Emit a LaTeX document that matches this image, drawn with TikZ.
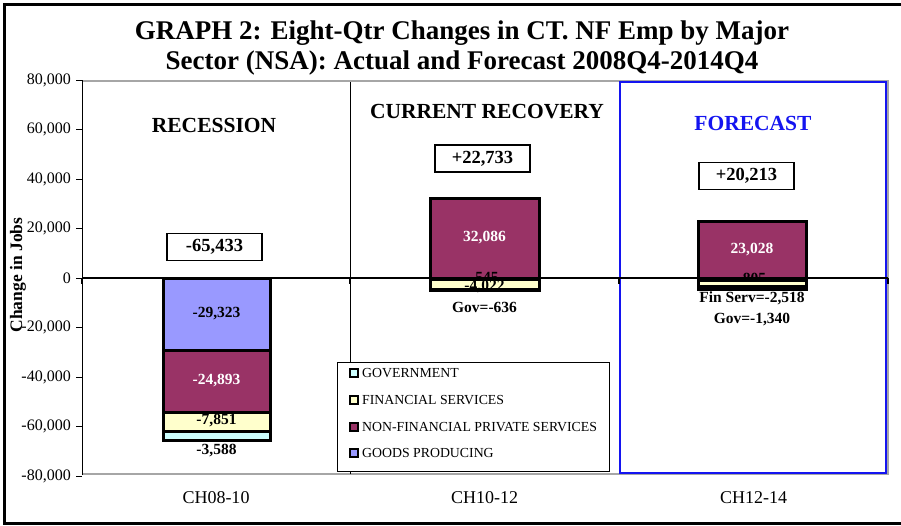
\documentclass[tikz,border=0pt]{standalone}
\usepackage{fontspec}
\setmainfont{Liberation Serif}
\usepackage{tikz}
\usetikzlibrary{positioning}
\definecolor{goodsc}{RGB}{153,153,255}
\definecolor{nfpsc}{RGB}{153,51,102}
\definecolor{finc}{RGB}{255,255,204}
\definecolor{govc}{RGB}{204,255,255}
\definecolor{fcblue}{RGB}{20,20,240}
\tikzset{
  seg/.style={draw=black, line width=3pt, line join=miter},
  vlab/.style={font=\bfseries\fontsize{15.5}{15.5}\selectfont, inner sep=0pt},
  boxlab/.style={draw=black, line width=1.2pt, fill=white, minimum width=95pt, minimum height=27pt, font=\bfseries\fontsize{18.5}{18.5}\selectfont},
  sectlab/.style={font=\bfseries\fontsize{21.5}{21.5}\selectfont},
  ticklab/.style={font=\fontsize{16}{16}\selectfont, anchor=east, inner sep=0pt},
  catlab/.style={font=\fontsize{18}{18}\selectfont},
  legsq/.style={draw=black, line width=2pt, minimum size=8pt, inner sep=0pt},
  legtxt/.style={font=\fontsize{13.8}{13.8}\selectfont, anchor=west, inner sep=0pt}
}
\begin{document}
\begin{tikzpicture}[x=1pt,y=-1pt]
\useasboundingbox (0,0) rectangle (901,525);
\draw[line width=3pt] (4,4) rectangle (906,523);

% title
\node[font=\bfseries\fontsize{27}{27}\selectfont] (title1) at (462,33) {GRAPH 2: Eight-Qtr Changes in CT. NF Emp by Major};
\node[font=\bfseries\fontsize{27}{27}\selectfont] (title2) at (462,63) {Sector (NSA): Actual and Forecast 2008Q4-2014Q4};

% plot area
\draw[gray!70, line width=2pt] (82,81) -- (888,81) -- (888,474) -- (82,474);
\draw[black, line width=0.8pt] (82,80) -- (82,475);
\draw[black, line width=0.6pt] (350,82) -- (350,474);
\draw[fcblue, line width=2.5pt] (620,82) rectangle (886,473);

% y axis
\foreach \v/\t in {80/{80,000},60/{60,000},40/{40,000},20/{20,000},0/0,-20/{-20,000},-40/{-40,000},-60/{-60,000},-80/{-80,000}}{
  \draw[line width=0.8pt] (76,{278-\v*2.475}) -- (82,{278-\v*2.475});
  \node[ticklab] (ty\v) at (71,{278-\v*2.475}) {\t};
}
\node[rotate=90, font=\bfseries\fontsize{17.5}{17.5}\selectfont] (ylab) at (18,275) {Change in Jobs};

% section titles
\node[sectlab] (rec) at (214,125) {RECESSION};
\node[sectlab] (cur) at (487,112) {CURRENT RECOVERY};
\node[sectlab, text=fcblue] (fc) at (753,123) {FORECAST};

% recession bar
\draw[seg, fill=goodsc] (163,278) rectangle (270,350.6);
\draw[seg, fill=nfpsc] (163,350.6) rectangle (270,412.2);
\draw[seg, fill=finc] (163,412.2) rectangle (270,431.6);
\draw[seg, fill=govc] (163,431.6) rectangle (270,440.5);
\node[vlab] (r1) at (216.5,314) {-29,323};
\node[vlab, text=white] (r2) at (216.5,381) {-24,893};
\node[vlab] (r3) at (216.5,421) {-7,851};
\node[vlab] (r4) at (216.5,451) {-3,588};

% recovery bar
\draw[seg, fill=nfpsc] (430,198.6) rectangle (539,278);
\draw[seg, fill=goodsc] (430,278) rectangle (539,279.3);
\node[vlab] (m2) at (484.5,277) {-545};
\draw[seg, fill=finc] (430,279.3) rectangle (539,289.3);
\draw[seg, fill=govc] (430,289.3) rectangle (539,290.9);
\node[vlab, text=white] (m1) at (484.5,238) {32,086};
\node[vlab] (m3) at (484.5,287) {-4,022};
\node[vlab] (m4) at (484.5,307) {Gov=-636};

% forecast bar
\draw[seg, fill=nfpsc] (698,221) rectangle (806,278);
\draw[seg, fill=goodsc] (698,278) rectangle (806,280);
\node[vlab] (f2) at (752,278) {-805};
\draw[seg, fill=finc] (698,280) rectangle (806,286.2);
\draw[seg, fill=govc] (698,286.2) rectangle (806,289.5);
\node[vlab, text=white] (f1) at (752,250) {23,028};
\node[vlab] (f3) at (752,298) {Fin Serv=-2,518};
\node[vlab] (f4) at (752,320) {Gov=-1,340};

% zero line
\draw[line width=2.5pt] (82,278) -- (888,278);
\foreach \x in {82,350,619,888}
  \draw[line width=2pt] (\x,278) -- (\x,284);

% totals
\node[boxlab] (tot1) at (214.5,247) {-65,433};
\node[boxlab] (tot2) at (482.5,158.5) {+22,733};
\node[boxlab] (tot3) at (746.5,176) {+20,213};

% legend
\draw[fill=white, line width=0.8pt] (337,362) rectangle (609,471);
\node[legsq, fill=govc] (lg1) at (354,373) {};
\node[legsq, fill=finc] (lg2) at (354,400) {};
\node[legsq, fill=nfpsc] (lg3) at (354,427) {};
\node[legsq, fill=goodsc] (lg4) at (354,453) {};
\node[legtxt, right=3pt of lg1] (lt1) {GOVERNMENT};
\node[legtxt, right=3pt of lg2] (lt2) {FINANCIAL SERVICES};
\node[legtxt, right=3pt of lg3] (lt3) {NON-FINANCIAL PRIVATE SERVICES};
\node[legtxt, right=3pt of lg4] (lt4) {GOODS PRODUCING};

% categories
\node[catlab] (c1) at (216,498) {CH08-10};
\node[catlab] (c2) at (484.5,498) {CH10-12};
\node[catlab] (c3) at (753.5,498) {CH12-14};
\end{tikzpicture}
\end{document}
